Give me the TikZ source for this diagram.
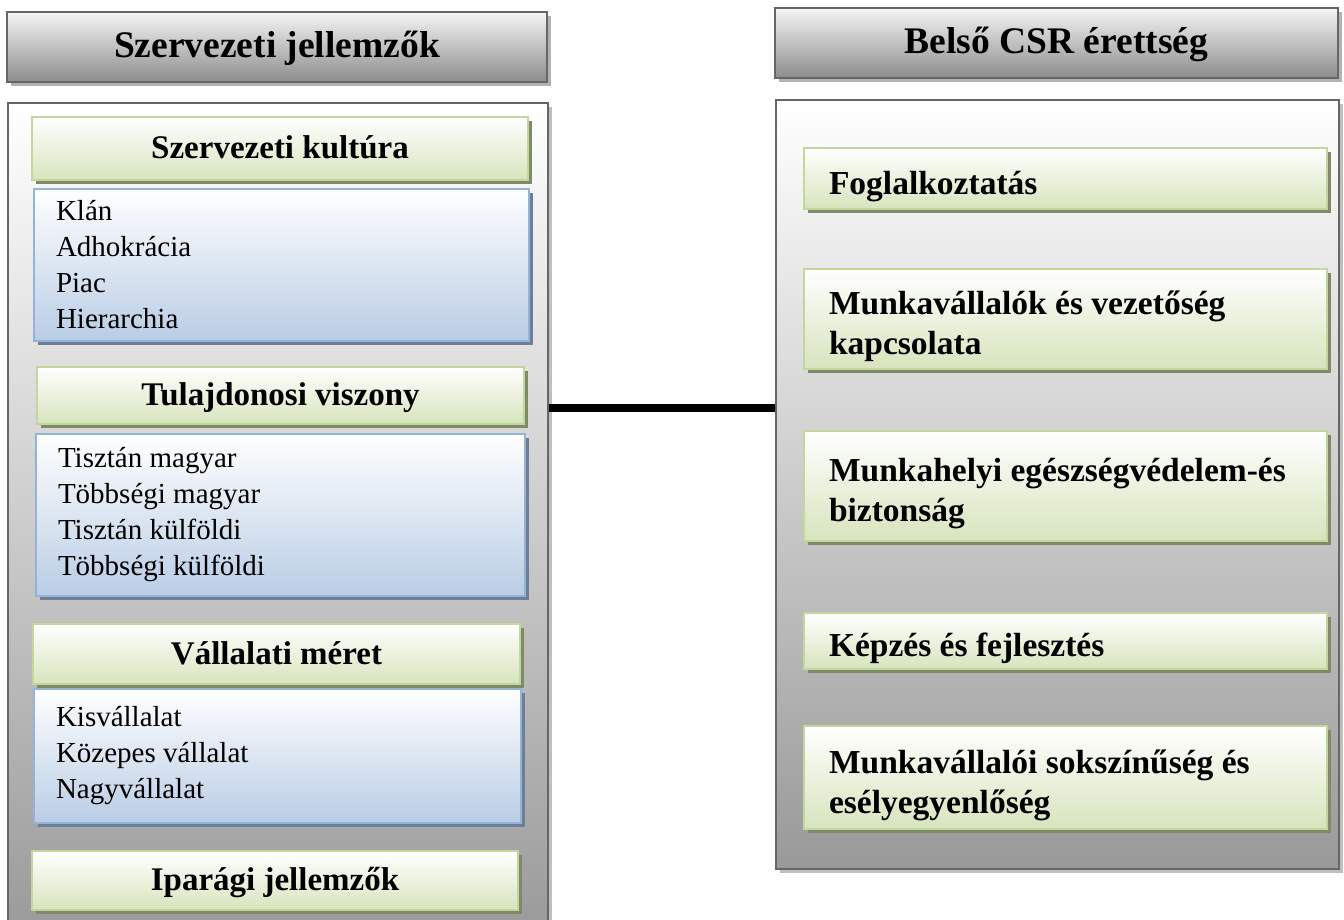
\documentclass[tikz,border=0pt]{standalone}
\usepackage{fontspec}
\setmainfont{Liberation Serif}
\usetikzlibrary{shadows}

\definecolor{greenfill}{HTML}{D7E4BD}
\definecolor{greenline}{HTML}{C3D69B}
\definecolor{greenshade}{HTML}{7F8A68}
\definecolor{bluefill}{HTML}{B9CDE5}
\definecolor{blueline}{HTML}{95B3D7}
\definecolor{blueshade}{HTML}{6E7E96}

\tikzset{
  titlebox/.style={draw=black!60, line width=2pt, top color=black!4, bottom color=black!45,
    inner sep=0pt, font=\fontsize{37.5}{45}\selectfont\bfseries, text height=28pt, text depth=6pt,
    drop shadow={shadow xshift=4pt, shadow yshift=-4pt, fill=black!30, opacity=1}},
  bigbox/.style={draw=black!60, line width=2pt, top color=white, bottom color=black!40,
    inner sep=0pt, anchor=north west,
    drop shadow={shadow xshift=4pt, shadow yshift=-4pt, fill=black!25, opacity=1}},
  headbox/.style={draw=greenline, line width=2pt, top color=white, bottom color=greenfill,
    inner sep=0pt, font=\fontsize{33}{40}\selectfont\bfseries, text height=25pt, text depth=5pt,
    drop shadow={shadow xshift=4pt, shadow yshift=-4pt, fill=greenshade, opacity=1}},
  itembox/.style={draw=greenline, line width=2pt, top color=white, bottom color=greenfill,
    anchor=north west, inner xsep=25pt, inner ysep=0pt, font=\fontsize{33.5}{40}\selectfont\bfseries,
    text width=473pt, minimum width=523pt, align=flush left,
    execute at begin node={\rule{0pt}{1.15em}},
    drop shadow={shadow xshift=4pt, shadow yshift=-4pt, fill=greenshade, opacity=1}},
  listbox/.style={draw=blueline, line width=2pt, top color=white, bottom color=bluefill,
    anchor=north west, inner xsep=22pt, inner ysep=0pt, align=flush left,
    font=\fontsize{29}{36}\selectfont,
    drop shadow={shadow xshift=4pt, shadow yshift=-4pt, fill=blueshade, opacity=1}}
}

\begin{document}
\begin{tikzpicture}[x=1pt, y=-1pt]
  \useasboundingbox (0,0) rectangle (1344,920);
  \clip (0,0) rectangle (1344,920);

  % left side
  \node[titlebox, minimum width=540pt, minimum height=70pt] (orgtitle) at (277,47) {Szervezeti jellemzők};
  \node[bigbox, minimum width=540pt, minimum height=840pt] (org) at (7,102) {};

  \node[headbox, minimum width=496pt, minimum height=63pt] (culture) at (280,148.5) {Szervezeti kultúra};
  \node[listbox, text width=451pt, minimum height=152pt] (culturelist) at (33,188)
    {Klán\\Adhokrácia\\Piac\\Hierarchia};

  \node[headbox, minimum width=487pt, minimum height=57pt] (owner) at (280.5,395.5) {Tulajdonosi viszony};
  \node[listbox, text width=445pt, minimum height=162pt] (ownerlist) at (35,433)
    {Tisztán magyar\\Többségi magyar\\Tisztán külföldi\\Többségi külföldi};

  \node[headbox, minimum width=487pt, minimum height=60pt] (size) at (276.5,654) {Vállalati méret};
  \node[listbox, text width=443pt, minimum height=134pt] (sizelist) at (33,688)
    {Kisvállalat\\Közepes vállalat\\Nagyvállalat};

  \node[headbox, minimum width=486pt, minimum height=59pt] (industry) at (275,880.5) {Iparági jellemzők};

  % right side
  \node[titlebox, minimum width=563pt, minimum height=70pt] (csrtitle) at (1056.5,43) {Belső CSR érettség};
  \node[bigbox, minimum width=563pt, minimum height=769pt] (csr) at (775,99) {};

  \node[itembox, minimum height=61pt] (employ) at (803,147) {Foglalkoztatás};
  \node[itembox, minimum height=100pt] (relation) at (803,268) {Munkavállalók és vezetőség\\kapcsolata};
  \node[itembox, minimum height=110pt] (safety) at (803,430) {Munkahelyi egészségvédelem-és\\biztonság};
  \node[itembox, minimum height=56pt] (training) at (803,612) {Képzés és fejlesztés};
  \node[itembox, minimum height=103pt] (diversity) at (803,725) {Munkavállalói sokszínűség és\\esélyegyenlőség};

  % connector
  \coordinate (link) at (0,408);
  \draw[line width=8pt] (org.east |- link) -- (csr.west |- link);
\end{tikzpicture}
\end{document}
